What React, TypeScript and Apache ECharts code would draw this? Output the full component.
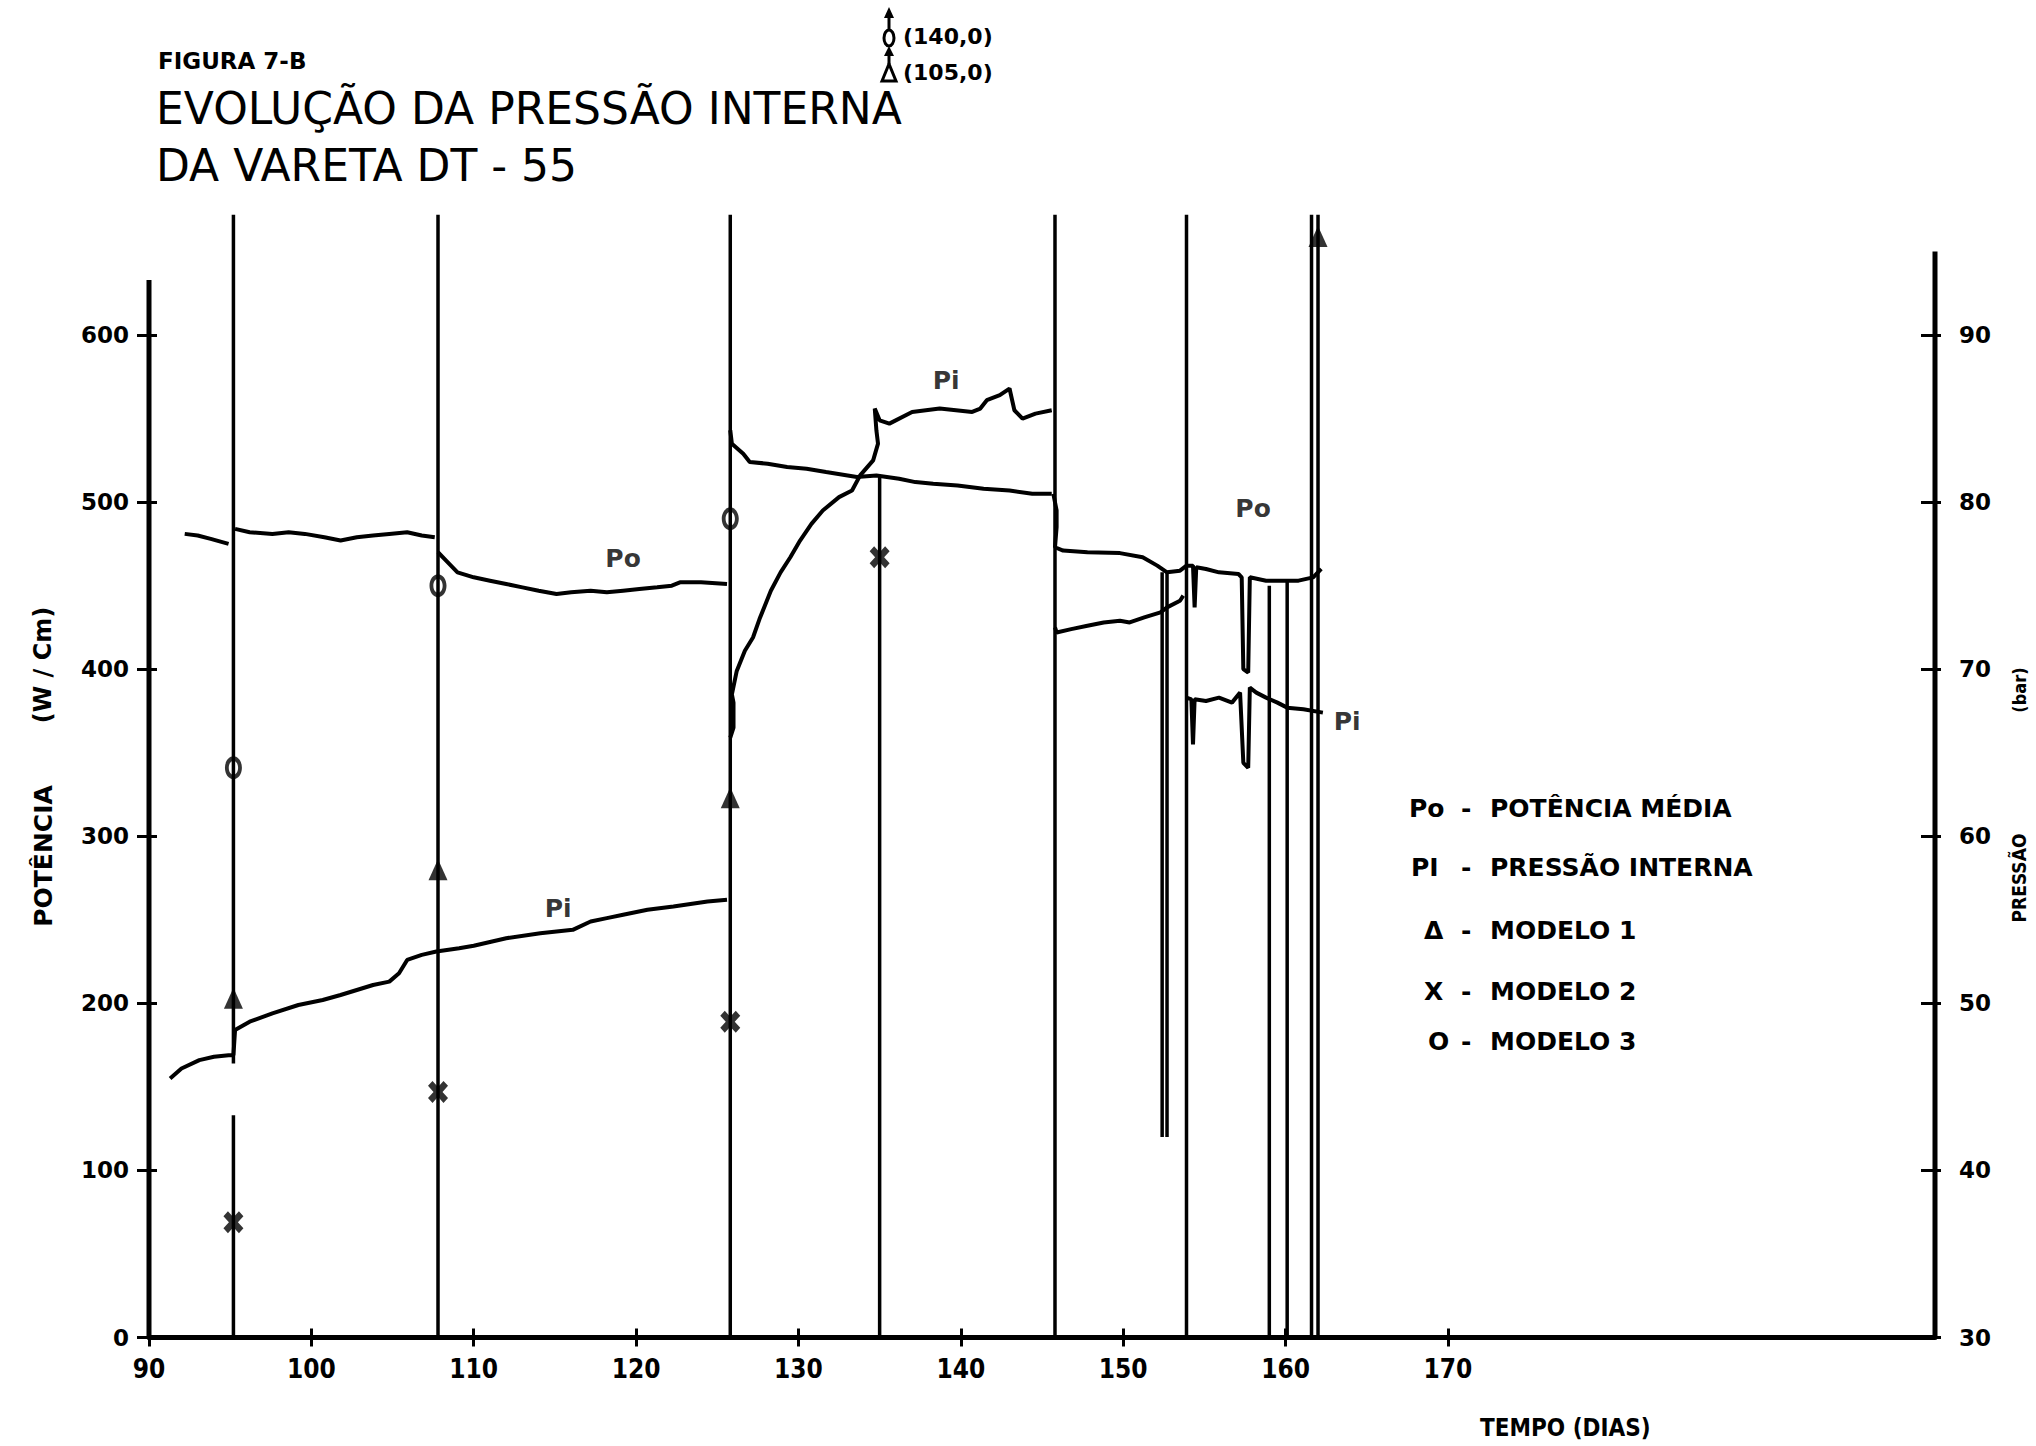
import React, { useEffect, useRef } from "react";
import * as echarts from "echarts";

// ---------- axis ticks ----------
const X_TICKS = [90, 100, 110, 120, 130, 140, 150, 160, 170];
const POT_TICKS = [0, 100, 200, 300, 400, 500, 600];
const PRES_TICKS = [30, 40, 50, 60, 70, 80, 90];

// ---------- Po : potência média (W/cm), left axis ----------
const PO_1 = [[92.2, 481], [93.0, 480], [93.8, 478], [94.9, 475]];
const PO_2 = [
  [95.3, 484], [96.2, 482], [97.6, 481], [98.6, 482], [99.6, 481], [100.8, 479],
  [101.8, 477], [102.8, 479], [103.8, 480], [104.8, 481], [105.9, 482], [106.8, 480], [107.6, 479],
];
const PO_3 = [
  [107.8, 470], [108.3, 465], [109.0, 458], [110.0, 455], [111.0, 453], [112.0, 451],
  [113.0, 449], [114.0, 447], [115.1, 445], [116.0, 446], [117.2, 447], [118.2, 446],
  [119.2, 447], [120.2, 448], [121.3, 449], [122.2, 450], [122.7, 452], [124.0, 452], [125.6, 451],
];
const PO_4 = [
  [125.8, 543], [125.9, 535], [126.6, 529], [127.0, 524], [128.1, 523], [129.3, 521],
  [130.5, 520], [131.7, 518], [133.6, 515], [134.8, 516], [136.2, 514], [137.2, 512],
  [138.3, 511], [139.8, 510], [141.4, 508], [143.0, 507], [144.4, 505], [145.6, 505],
];
const PO_5 = [
  [145.7, 505], [145.9, 495], [145.9, 485], [145.8, 473], [146.3, 471], [147.8, 470],
  [149.8, 469.5], [151.2, 467], [152.1, 462], [152.7, 458], [153.5, 459], [153.9, 462],
  [154.3, 462], [154.4, 437], [154.5, 461], [155.1, 460], [155.9, 458], [157.1, 457],
  [157.3, 455], [157.4, 400], [157.7, 398], [157.8, 455], [158.8, 453], [159.8, 453],
  [160.8, 453], [161.7, 455], [162.2, 460],
];

// ---------- Pi : pressão interna (bar), right axis ----------
const PI_1 = [
  [91.3, 45.5], [92.0, 46.1], [93.1, 46.6], [94.0, 46.8], [94.9, 46.9], [95.2, 46.9],
  [95.3, 48.4], [96.2, 48.9], [97.6, 49.4], [99.2, 49.9], [100.7, 50.2], [101.8, 50.5],
  [102.8, 50.8], [103.8, 51.1], [104.8, 51.3], [105.4, 51.8], [105.9, 52.6], [106.8, 52.9],
  [107.7, 53.1], [109.1, 53.3], [110.0, 53.45], [112.0, 53.9], [114.1, 54.2], [116.1, 54.4],
  [117.2, 54.9], [118.2, 55.1], [119.2, 55.3], [120.7, 55.6], [122.3, 55.8], [124.4, 56.1], [125.6, 56.2],
];
const PI_2 = [
  [125.8, 65.9], [126.0, 66.5], [126.0, 68.0], [125.9, 68.5], [126.2, 69.9], [126.7, 71.1],
  [127.2, 71.9], [127.6, 73.0], [128.3, 74.7], [128.9, 75.8], [129.5, 76.7], [130.1, 77.7],
  [130.8, 78.7], [131.5, 79.5], [132.5, 80.3], [133.3, 80.7], [133.8, 81.6], [134.6, 82.5],
  [134.9, 83.5], [134.8, 84.3], [134.7, 85.6], [135.0, 84.9], [135.6, 84.7], [137.0, 85.4],
  [138.7, 85.6], [140.7, 85.4], [141.2, 85.6], [141.6, 86.1], [142.4, 86.4], [143.0, 86.8],
  [143.3, 85.5], [143.8, 85.0], [144.6, 85.3], [145.6, 85.5],
];
const PI_3 = [
  [145.8, 72.5], [145.9, 72.2], [146.8, 72.4], [147.8, 72.6], [148.8, 72.8], [149.8, 72.9],
  [150.4, 72.8], [151.3, 73.1], [152.3, 73.4], [152.7, 73.7], [153.5, 74.1], [153.7, 74.4],
];
const PI_4 = [
  [153.9, 68.3], [154.2, 68.2], [154.3, 65.5], [154.4, 68.2], [155.1, 68.1], [155.9, 68.3],
  [156.7, 68.0], [157.2, 68.6], [157.4, 64.4], [157.7, 64.1], [157.8, 68.9], [158.2, 68.6],
  [158.8, 68.3], [159.5, 68.0], [160.1, 67.7], [161.1, 67.6], [162.3, 67.4],
];

// ---------- model predictions (bar) ----------
const MODELO_1 = [[95.2, 50.3], [107.8, 58.0], [125.8, 62.3], [162.0, 95.9]];
const MODELO_2 = [[95.2, 36.9], [107.8, 44.7], [125.8, 48.9], [135.0, 76.7]];
const MODELO_3 = [[95.2, 64.1], [107.8, 75.0], [125.8, 79.0]];

// ---------- event lines: [day, from, to] in W/cm ----------
const EVENT_LINES = [
  [95.2, 0, 133], [95.2, 164, 672], [107.8, 0, 672], [125.8, 0, 672], [135.0, 0, 516],
  [145.8, 0, 672], [152.4, 120, 458], [152.7, 120, 458], [153.9, 0, 672], [159.0, 0, 450],
  [160.1, 0, 453], [161.6, 0, 672], [162.0, 0, 672],
];

// ---------- curve labels: [text, day, W/cm] ----------
const CURVE_LABELS: [string, number, number][] = [
  ["Po", 119.2, 466], ["Pi", 115.2, 257], ["Pi", 139.1, 573], ["Po", 158.0, 496], ["Pi", 163.8, 369],
];

const LEGEND_ROWS: [string, string, number, number][] = [
  ["Po", "POTÊNCIA MÉDIA", 1409, 808],
  ["PI", "PRESSÃO INTERNA", 1411, 867],
  ["Δ", "MODELO 1", 1424, 930],
  ["X", "MODELO 2", 1424, 991],
  ["O", "MODELO 3", 1428, 1041],
];

const FONT = "'DejaVu Sans', sans-serif";
const NARROW = "'DejaVu Sans Condensed', 'DejaVu Sans', sans-serif";
const X_SYMBOL =
  "path://M0,4.5 L4.5,0 L10,5.5 L15.5,0 L20,4.5 L14.5,10 L20,15.5 L15.5,20 L10,14.5 L4.5,20 L0,15.5 L5.5,10 Z";
const O_SYMBOL =
  "path://M0,14 C0,6.27 4.48,0 10,0 C15.52,0 20,6.27 20,14 C20,21.73 15.52,28 10,28 C4.48,28 0,21.73 0,14 Z " +
  "M4.5,14 C4.5,18.69 6.96,22.5 10,22.5 C13.04,22.5 15.5,18.69 15.5,14 C15.5,9.31 13.04,5.5 10,5.5 C6.96,5.5 4.5,9.31 4.5,14 Z";

function txt(text: string, x: number, y: number, size: number, opts: any = {}) {
  return {
    type: "text",
    x,
    y,
    rotation: opts.rotation || 0,
    style: {
      text,
      fontSize: size,
      fontFamily: opts.family || FONT,
      fontWeight: opts.weight || "bold",
      fill: "#000",
      align: opts.align || "left",
      textAlign: opts.align || "left",
      verticalAlign: "middle",
      textVerticalAlign: "middle",
    },
  };
}

export default function App() {
  const ref = useRef<HTMLDivElement>(null);
  useEffect(() => {
    if (!ref.current) return;
    const chart = echarts.init(ref.current, null, { renderer: "svg" });
    const black = "#000";
    const curve = (data: number[][], yAxisIndex: number) => ({
      type: "line",
      data,
      yAxisIndex,
      symbol: "none",
      silent: true,
      lineStyle: { color: black, width: 4 },
    });
    const series: any[] = [];
    [PO_1, PO_2, PO_3, PO_4, PO_5].forEach((s) => series.push(curve(s, 0)));
    [PI_1, PI_2, PI_3, PI_4].forEach((s) => series.push(curve(s, 1)));
    EVENT_LINES.forEach(([d, a, b]) =>
      series.push({
        type: "line",
        data: [[d, a], [d, b]],
        yAxisIndex: 0,
        symbol: "none",
        silent: true,
        lineStyle: { color: black, width: 3.5 },
      })
    );
    // axis lines
    series.push({
      type: "line", data: [[90, 0], [90, 633]], yAxisIndex: 0, symbol: "none", clip: false,
      silent: true, lineStyle: { color: black, width: 5 },
    });
    series.push({
      type: "line", data: [[200, 30], [200, 95]], yAxisIndex: 1, symbol: "none", clip: false,
      silent: true, lineStyle: { color: black, width: 5 },
    });
    series.push({
      type: "scatter", name: "MODELO 1", data: MODELO_1, yAxisIndex: 1, symbol: "triangle",
      symbolSize: [19, 21], itemStyle: { color: black }, clip: false, z: 5,
    });
    series.push({
      type: "scatter", name: "MODELO 2", data: MODELO_2, yAxisIndex: 1, symbol: X_SYMBOL,
      symbolSize: [20, 22], itemStyle: { color: black }, z: 5,
    });
    series.push({
      type: "scatter", name: "MODELO 3", data: MODELO_3, yAxisIndex: 1, symbol: O_SYMBOL,
      symbolSize: [17, 23], itemStyle: { color: black }, z: 5,
    });
    series.push({
      type: "scatter",
      yAxisIndex: 0,
      data: CURVE_LABELS.map(([t, d, v]) => ({ name: t, value: [d, v] })),
      symbolSize: 1,
      itemStyle: { color: "rgba(0,0,0,0)" },
      label: {
        show: true, position: "inside", formatter: "{b}", fontSize: 25, fontWeight: "bold",
        fontFamily: FONT, color: black,
      },
      z: 6,
    });

    const graphic: any[] = [
      txt("FIGURA 7-B", 158, 61, 23),
      txt("EVOLUÇÃO DA PRESSÃO INTERNA", 156, 108, 44, { weight: "normal" }),
      txt("DA VARETA DT - 55", 156, 165, 44, { weight: "normal" }),
      txt("(140,0)", 903, 36, 22),
      txt("(105,0)", 903, 72, 22),
      { type: "ellipse", shape: { cx: 889, cy: 38, rx: 5, ry: 8 }, style: { fill: "none", stroke: black, lineWidth: 3 } },
      { type: "line", shape: { x1: 889, y1: 30, x2: 889, y2: 14 }, style: { stroke: black, lineWidth: 3 } },
      { type: "polygon", shape: { points: [[884, 18], [889, 7], [894, 18]] }, style: { fill: black } },
      { type: "polygon", shape: { points: [[882, 81], [889, 64], [896, 81]] }, style: { fill: "none", stroke: black, lineWidth: 3 } },
      { type: "line", shape: { x1: 889, y1: 64, x2: 889, y2: 53 }, style: { stroke: black, lineWidth: 3 } },
      { type: "polygon", shape: { points: [[884, 56], [889, 46], [894, 56]] }, style: { fill: black } },
      txt("POTÊNCIA", 43, 856, 25, { rotation: Math.PI / 2, align: "center" }),
      txt("(W / Cm)", 43, 665, 24, { rotation: Math.PI / 2, align: "center" }),
      txt("PRESSÃO", 2019, 878, 19, { rotation: Math.PI / 2, align: "center", family: NARROW }),
      txt("(bar)", 2019, 690, 18, { rotation: Math.PI / 2, align: "center", family: NARROW }),
      txt("TEMPO (DIAS)", 1480, 1428, 24, { family: NARROW }),
    ];
    LEGEND_ROWS.forEach(([sym, desc, x, y]) => {
      graphic.push(txt(sym, x, y, 25));
      graphic.push(txt("-", 1461, y, 25));
      graphic.push(txt(desc, 1490, y, 25));
    });

    const xBase = { type: "value", min: 90, max: 200, interval: 10, splitLine: { show: false } };
    chart.setOption({
      animation: false,
      backgroundColor: "#fff",
      grid: { left: 149, right: 101, top: 168, bottom: 108.5 },
      xAxis: [
        {
          ...xBase,
          position: "bottom",
          axisLine: { show: true, onZero: false, lineStyle: { color: black, width: 5 } },
          axisTick: { show: true, customValues: X_TICKS, length: 9, lineStyle: { color: black, width: 3 } },
          axisLabel: {
            customValues: X_TICKS, color: black, fontFamily: NARROW, fontWeight: "bold", fontSize: 26, margin: 18,
          },
        },
        {
          ...xBase,
          position: "bottom",
          axisLine: { show: false },
          axisTick: { show: true, inside: true, customValues: X_TICKS, length: 9, lineStyle: { color: black, width: 3 } },
          axisLabel: { show: false },
        },
      ],
      yAxis: [
        {
          type: "value", min: 0, max: 700, interval: 100, position: "left", splitLine: { show: false },
          axisLine: { show: false },
          axisTick: { show: true, customValues: POT_TICKS, length: 12, lineStyle: { color: black, width: 3 } },
          axisLabel: { customValues: POT_TICKS, color: black, fontFamily: FONT, fontWeight: "bold", fontSize: 23, margin: 20 },
        },
        {
          type: "value", min: 30, max: 100, interval: 10, position: "right", splitLine: { show: false },
          axisLine: { show: false },
          axisTick: { show: true, customValues: PRES_TICKS, length: 6, lineStyle: { color: black, width: 3 } },
          axisLabel: { customValues: PRES_TICKS, color: black, fontFamily: FONT, fontWeight: "bold", fontSize: 23, margin: 24 },
        },
        {
          type: "value", min: 0, max: 700, interval: 100, position: "left", offset: 0, splitLine: { show: false },
          axisLine: { show: false },
          axisTick: { show: true, inside: true, customValues: POT_TICKS, length: 8, lineStyle: { color: black, width: 3 } },
          axisLabel: { show: false },
        },
        {
          type: "value", min: 30, max: 100, interval: 10, position: "right", offset: 0, splitLine: { show: false },
          axisLine: { show: false },
          axisTick: { show: true, inside: true, customValues: PRES_TICKS, length: 14, lineStyle: { color: black, width: 3 } },
          axisLabel: { show: false },
        },
      ],
      series,
      graphic,
    });
    return () => chart.dispose();
  }, []);
  return (
    <div
      ref={ref}
      style={{ position: "absolute", left: 0, top: 0, width: 2036, height: 1446, background: "#fff" }}
    />
  );
}
